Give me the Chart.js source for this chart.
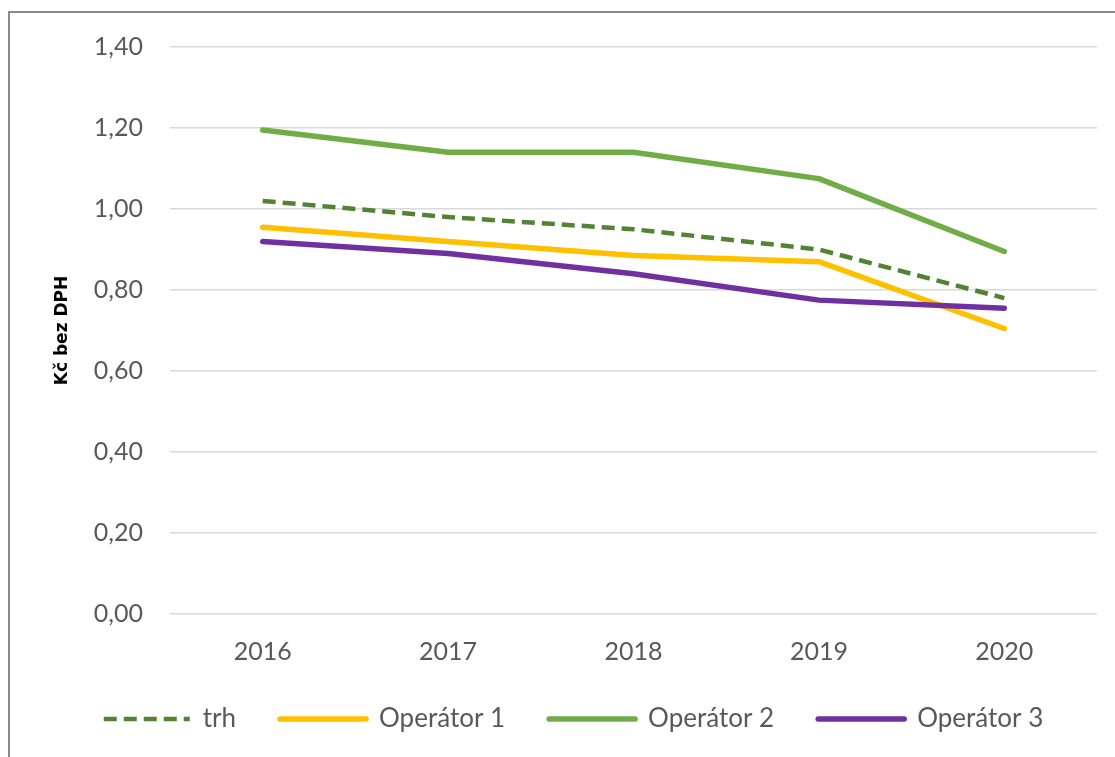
<!DOCTYPE html>
<html>
<head>
<meta charset="utf-8">
<script src="https://cdn.jsdelivr.net/npm/chart.js@4/dist/chart.umd.min.js"></script>
<style>
  html, body { margin: 0; padding: 0; background: #ffffff; overflow: hidden; }
  #frame {
    position: absolute; left: 8px; top: 11px; width: 2000px; height: 2000px;
    border-left: 2px solid #8a8a8a; border-top: 2px solid #8a8a8a;
  }
  #wrap { position: absolute; left: 0; top: 0; width: 1115px; height: 757px; }
</style>
</head>
<body>
<div id="frame"></div>
<div id="wrap"><canvas id="chart" width="1115" height="757"></canvas></div>
<script>
// Roky a ceny (Kč bez DPH)
const years = ['2016', '2017', '2018', '2019', '2020'];
const trh = [1.02, 0.98, 0.95, 0.90, 0.78];
const operator1 = [0.955, 0.92, 0.885, 0.87, 0.705];
const operator2 = [1.195, 1.14, 1.14, 1.075, 0.895];
const operator3 = [0.92, 0.89, 0.84, 0.775, 0.755];
const seriesNames = ['trh', 'Operátor 1', 'Operátor 2', 'Operátor 3'];
const axisTitle = 'Kč bez DPH';

const textColor = '#595959';
const tickFont = { family: 'Lato', size: 25 };
const legendFont = { family: 'Lato', size: 26 };

function lineSet(label, data, color, width, dash, order) {
  return {
    label: label,
    data: data,
    borderColor: color,
    backgroundColor: color,
    borderWidth: width,
    borderDash: dash,
    borderCapStyle: dash.length ? 'butt' : 'round',
    borderJoinStyle: 'round',
    pointRadius: 0,
    pointHoverRadius: 0,
    tension: 0,
    fill: false,
    order: order
  };
}

// legend samples reuse the dataset's own stroke (dash, width, caps)
function legendLabels(chart) {
  const items = Chart.defaults.plugins.legend.labels.generateLabels(chart);
  items.forEach((item) => {
    const ds = chart.data.datasets[item.datasetIndex];
    item.lineDash = ds.borderDash;
    item.lineWidth = ds.borderWidth;
    item.lineCap = ds.borderCapStyle;
    item.strokeStyle = ds.borderColor;
  });
  return items.sort((a, b) => a.datasetIndex - b.datasetIndex);
}

new Chart(document.getElementById('chart'), {
  type: 'line',
  data: {
    labels: years,
    datasets: [
      lineSet(seriesNames[0], trh, '#548235', 4.5, [13, 7], 3),
      lineSet(seriesNames[1], operator1, '#FFC000', 5.5, [], 2),
      lineSet(seriesNames[2], operator2, '#70AD47', 5.5, [], 1),
      lineSet(seriesNames[3], operator3, '#7030A0', 5.5, [], 0)
    ]
  },
  options: {
    responsive: false,
    animation: false,
    layout: { padding: { left: 50, top: 47, right: 18, bottom: 15 } },
    plugins: {
      tooltip: { enabled: false },
      legend: {
        position: 'bottom',
        labels: {
          usePointStyle: true,
          pointStyle: 'line',
          pointStyleWidth: 86,
          boxHeight: 26,
          padding: 44,
          color: textColor,
          font: legendFont,
          generateLabels: legendLabels
        }
      }
    },
    scales: {
      x: {
        offset: true,
        afterFit: (scale) => { scale.height = 48; },
        grid: { display: false, drawTicks: false },
        border: { display: false },
        ticks: { color: textColor, font: tickFont, padding: 23, maxRotation: 0 }
      },
      y: {
        min: 0,
        max: 1.4,
        afterFit: (scale) => { scale.width = 120; },
        grid: { color: '#d9d9d9', lineWidth: 1.5, drawTicks: false },
        border: { display: false },
        ticks: {
          stepSize: 0.2,
          padding: 27,
          color: textColor,
          font: tickFont,
          callback: (v) => v.toFixed(2).replace('.', ',')
        },
        title: {
          display: true,
          text: axisTitle,
          color: '#000000',
          font: { family: 'DejaVu Sans', size: 17, weight: 'bold' },
          padding: { top: 2, bottom: 0 }
        }
      }
    }
  }
});
</script>
</body>
</html>
